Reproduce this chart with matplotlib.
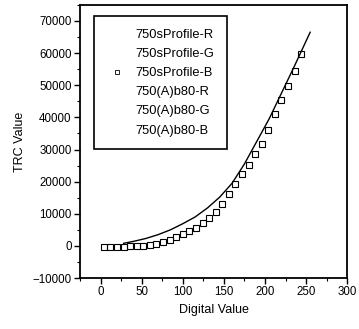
import matplotlib.pyplot as plt
from matplotlib.lines import Line2D

plt.rcParams['font.family'] = ['Liberation Sans', 'DejaVu Sans']

# 750sProfile-B (squares)
prof_x = [4, 12, 20, 28, 36, 44, 52, 60, 68, 76, 84, 92, 100, 108, 116, 124,
          132, 140, 148, 156, 164, 172, 180, 188, 196, 204, 212, 220, 228, 236, 244]
prof_y = [-300, -300, -300, -200, -100, 0, 100, 300, 700, 1200, 1900, 2700, 3600, 4600,
          5700, 7100, 8800, 10700, 13000, 16000, 19200, 22400, 25300, 28500, 31800,
          36000, 41000, 45300, 49800, 54500, 59800]

# 750(A)b80 curve (solid line)
b80_x = [28, 40, 55, 70, 85, 100, 115, 130, 145, 160, 175, 190, 205, 220, 235, 245, 255]
b80_y = [800, 1400, 2300, 3500, 5000, 6900, 9000, 11800, 15200, 19500, 25500, 32500,
         39500, 47500, 55500, 61000, 66500]

labels = ['750sProfile-R', '750sProfile-G', '750sProfile-B',
          '750(A)b80-R', '750(A)b80-G', '750(A)b80-B']

fig = plt.figure(figsize=(3.59, 3.29), dpi=100)
ax = fig.add_axes([0.223, 0.155, 0.744, 0.830])

ax.plot(b80_x, b80_y, color='black', linewidth=1.0)
ax.plot(prof_x, prof_y, linestyle='none', marker='s', markersize=4.7,
        markerfacecolor='none', markeredgecolor='black', markeredgewidth=0.8)

ax.set_xlim(-25, 300)
ax.set_ylim(-10000, 75000)
ax.set_xticks([0, 50, 100, 150, 200, 250, 300])
ax.set_xticks(range(-25, 301, 25), minor=True)
ax.set_yticks(range(-10000, 70001, 10000))
ax.set_yticks(range(-10000, 75001, 5000), minor=True)
ax.tick_params(direction='out', length=4, width=1, labelsize=8.3, pad=2)
ax.tick_params(which='minor', direction='out', length=2, width=0.8)
for s in ax.spines.values():
    s.set_linewidth(1.3)

ax.set_xlabel('Digital Value', fontsize=9, labelpad=4)
ax.set_ylabel('TRC Value', fontsize=9, labelpad=5)

handles = []
for lab in labels:
    if lab == '750sProfile-B':
        handles.append(Line2D([], [], linestyle='none', marker='s', markersize=3,
                              markerfacecolor='none', markeredgecolor='black',
                              markeredgewidth=0.6))
    else:
        handles.append(Line2D([], [], linestyle='none'))
leg = ax.legend(handles, labels, loc='upper left', bbox_to_anchor=(0.052, 0.96),
                borderaxespad=0, fancybox=False, edgecolor='black', fontsize=9.3,
                handlelength=1.6, handletextpad=0.6, labelspacing=0.55,
                borderpad=1.0, framealpha=1)
leg.get_frame().set_linewidth(1.2)

fig.savefig('out.png', dpi=100)
